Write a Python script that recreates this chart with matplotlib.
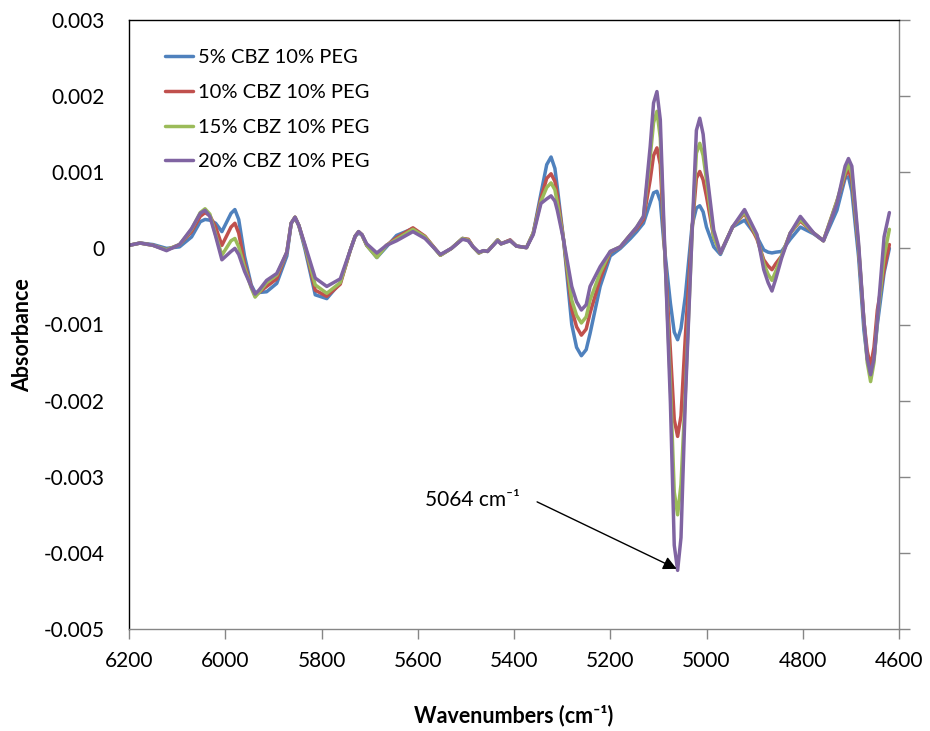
import matplotlib
matplotlib.use('Agg')
import matplotlib.pyplot as plt
from matplotlib.ticker import FixedLocator, FixedFormatter

plt.rcParams['font.family'] = ['Lato', 'DejaVu Sans']

# wavenumbers (cm-1), shared by all four spectra
wn = [6200, 6177, 6150, 6122, 6095, 6070, 6052, 6042, 6032, 6020,
      6007, 5988, 5980, 5972, 5960, 5946, 5938, 5930, 5914, 5893,
      5872, 5863, 5855, 5847, 5834, 5813, 5789, 5761, 5740, 5730,
      5723, 5716, 5706, 5685, 5665, 5644, 5610, 5585, 5553, 5530,
      5507, 5495, 5485, 5473, 5463, 5455, 5434, 5427, 5408, 5395,
      5374, 5360, 5344, 5332, 5323, 5315, 5310, 5297, 5280, 5270,
      5260, 5250, 5242, 5221, 5200, 5179, 5158, 5145, 5131, 5117,
      5110, 5103, 5096, 5089, 5075, 5067, 5060, 5053, 5044, 5030,
      5021, 5014, 5007, 5000, 4985, 4971, 4946, 4921, 4895, 4881,
      4872, 4864, 4856, 4844, 4826, 4805, 4777, 4757, 4729, 4712,
      4705, 4698, 4684, 4673, 4666, 4659, 4652, 4645, 4631, 4620]

cbz5 = [0.4e-4, 0.7e-4, 0.5e-4, 0.0e-4, 0.2e-4, 1.5e-4, 3.5e-4, 3.8e-4, 3.7e-4, 3.3e-4,
        2.2e-4, 4.6e-4, 5.1e-4, 3.8e-4, -1.0e-4, -4.8e-4, -5.8e-4, -5.8e-4, -5.7e-4, -4.6e-4,
        -1.0e-4, 3.3e-4, 4.0e-4, 3.0e-4, -0.2e-4, -6.1e-4, -6.6e-4, -4.5e-4, -0.2e-4, 1.6e-4,
        2.0e-4, 1.8e-4, 0.4e-4, -1.2e-4, 0.2e-4, 1.7e-4, 2.6e-4, 1.5e-4, -0.9e-4, 0.0e-4,
        1.3e-4, 1.1e-4, 0.2e-4, -0.6e-4, -0.3e-4, -0.4e-4, 1.1e-4, 0.6e-4, 1.1e-4, 0.3e-4,
        0.1e-4, 2.0e-4, 7.2e-4, 11.0e-4, 12.0e-4, 10.5e-4, 8.0e-4, 1.1e-4, -10.0e-4, -13.0e-4,
        -14.1e-4, -13.3e-4, -11.2e-4, -5.0e-4, -1.0e-4, 0.0e-4, 1.3e-4, 2.2e-4, 3.3e-4, 6.0e-4,
        7.3e-4, 7.5e-4, 6.2e-4, 1.0e-4, -7.2e-4, -11.0e-4, -12.0e-4, -10.5e-4, -6.3e-4, 3.0e-4,
        5.3e-4, 5.6e-4, 4.8e-4, 2.8e-4, 0.2e-4, -0.8e-4, 2.8e-4, 3.7e-4, 1.5e-4, -0.2e-4,
        -0.5e-4, -0.6e-4, -0.5e-4, -0.4e-4, 1.2e-4, 2.8e-4, 1.9e-4, 1.0e-4, 5.0e-4, 9.2e-4,
        9.4e-4, 7.5e-4, -1.1e-4, -10.7e-4, -14.5e-4, -16.0e-4, -14.5e-4, -10.0e-4, -3.2e-4, 0.0e-4]

cbz10 = [0.4e-4, 0.7e-4, 0.4e-4, -0.2e-4, 0.5e-4, 2.2e-4, 4.2e-4, 4.7e-4, 4.3e-4, 2.8e-4,
         0.4e-4, 2.8e-4, 3.3e-4, 2.0e-4, -2.0e-4, -5.0e-4, -6.2e-4, -5.8e-4, -5.0e-4, -4.0e-4,
         -0.5e-4, 3.3e-4, 4.1e-4, 3.0e-4, 0.2e-4, -5.5e-4, -6.3e-4, -4.7e-4, -0.2e-4, 1.6e-4,
         2.2e-4, 1.8e-4, 0.4e-4, -1.0e-4, 0.4e-4, 1.4e-4, 2.7e-4, 1.6e-4, -0.9e-4, 0.0e-4,
         1.3e-4, 1.2e-4, 0.2e-4, -0.6e-4, -0.3e-4, -0.4e-4, 1.1e-4, 0.6e-4, 1.1e-4, 0.3e-4,
         0.1e-4, 2.0e-4, 6.6e-4, 9.2e-4, 9.8e-4, 8.8e-4, 7.0e-4, 1.1e-4, -8.0e-4, -10.3e-4,
         -11.4e-4, -10.6e-4, -8.5e-4, -4.0e-4, -0.5e-4, 0.2e-4, 1.8e-4, 2.6e-4, 3.8e-4, 9.0e-4,
         12.2e-4, 13.2e-4, 11.0e-4, 2.0e-4, -13.5e-4, -22.5e-4, -24.7e-4, -22.0e-4, -11.6e-4, 2.5e-4,
         9.2e-4, 10.1e-4, 9.0e-4, 6.8e-4, 1.5e-4, -0.6e-4, 2.8e-4, 4.6e-4, 1.2e-4, -1.5e-4,
         -2.3e-4, -2.8e-4, -2.0e-4, -1.0e-4, 2.0e-4, 3.6e-4, 2.0e-4, 1.0e-4, 6.2e-4, 9.5e-4,
         10.3e-4, 9.0e-4, 0.0e-4, -9.5e-4, -13.5e-4, -15.5e-4, -13.0e-4, -8.1e-4, -2.8e-4, 0.5e-4]

cbz15 = [0.4e-4, 0.7e-4, 0.4e-4, -0.2e-4, 0.5e-4, 2.5e-4, 4.7e-4, 5.2e-4, 4.5e-4, 1.8e-4,
         -0.9e-4, 1.0e-4, 1.3e-4, 0.2e-4, -2.5e-4, -5.2e-4, -6.4e-4, -5.8e-4, -4.5e-4, -3.5e-4,
         -0.5e-4, 3.3e-4, 4.1e-4, 3.0e-4, 0.2e-4, -4.8e-4, -5.9e-4, -4.5e-4, -0.2e-4, 1.6e-4,
         2.2e-4, 1.8e-4, 0.4e-4, -1.2e-4, 0.4e-4, 1.2e-4, 2.5e-4, 1.5e-4, -0.9e-4, 0.0e-4,
         1.3e-4, 1.1e-4, 0.2e-4, -0.6e-4, -0.3e-4, -0.4e-4, 1.1e-4, 0.6e-4, 1.0e-4, 0.3e-4,
         0.1e-4, 2.0e-4, 6.2e-4, 8.0e-4, 8.6e-4, 7.7e-4, 6.0e-4, 1.1e-4, -6.8e-4, -8.8e-4,
         -9.8e-4, -9.0e-4, -6.8e-4, -3.2e-4, -0.4e-4, 0.2e-4, 1.8e-4, 2.8e-4, 4.2e-4, 12.0e-4,
         16.5e-4, 18.0e-4, 14.5e-4, 3.0e-4, -18.0e-4, -32.0e-4, -35.0e-4, -31.0e-4, -19.0e-4, 2.0e-4,
         12.5e-4, 13.8e-4, 12.2e-4, 9.0e-4, 1.5e-4, -0.6e-4, 2.8e-4, 4.8e-4, 1.5e-4, -2.0e-4,
         -3.4e-4, -4.2e-4, -3.0e-4, -1.0e-4, 2.0e-4, 3.8e-4, 2.0e-4, 1.0e-4, 6.2e-4, 10.0e-4,
         11.0e-4, 9.8e-4, 0.3e-4, -9.5e-4, -15.0e-4, -17.5e-4, -15.0e-4, -9.4e-4, -1.1e-4, 2.5e-4]

cbz20 = [0.4e-4, 0.7e-4, 0.4e-4, -0.3e-4, 0.5e-4, 2.6e-4, 4.6e-4, 5.0e-4, 4.2e-4, 1.6e-4,
         -1.5e-4, -0.4e-4, 0.0e-4, -0.8e-4, -3.0e-4, -5.0e-4, -6.0e-4, -5.5e-4, -4.2e-4, -3.3e-4,
         -0.5e-4, 3.3e-4, 4.1e-4, 3.0e-4, 0.4e-4, -3.9e-4, -5.0e-4, -4.0e-4, -0.2e-4, 1.6e-4,
         2.2e-4, 1.8e-4, 0.6e-4, -0.6e-4, 0.4e-4, 1.0e-4, 2.2e-4, 1.3e-4, -0.8e-4, 0.0e-4,
         1.2e-4, 1.0e-4, 0.2e-4, -0.5e-4, -0.3e-4, -0.4e-4, 1.0e-4, 0.6e-4, 1.0e-4, 0.3e-4,
         0.1e-4, 1.8e-4, 5.9e-4, 6.5e-4, 6.9e-4, 6.2e-4, 5.0e-4, 1.1e-4, -5.0e-4, -7.0e-4,
         -8.1e-4, -7.4e-4, -5.0e-4, -2.4e-4, -0.4e-4, 0.2e-4, 1.8e-4, 2.8e-4, 4.2e-4, 13.4e-4,
         19.1e-4, 20.6e-4, 16.9e-4, 4.0e-4, -20.3e-4, -39.0e-4, -42.3e-4, -38.0e-4, -20.0e-4, 2.0e-4,
         15.5e-4, 17.1e-4, 15.0e-4, 10.3e-4, 2.4e-4, -0.6e-4, 2.8e-4, 5.1e-4, 1.8e-4, -2.8e-4,
         -4.5e-4, -5.6e-4, -4.0e-4, -1.3e-4, 2.0e-4, 4.2e-4, 2.0e-4, 1.0e-4, 5.9e-4, 10.8e-4,
         11.8e-4, 10.8e-4, 0.7e-4, -9.4e-4, -14.5e-4, -16.6e-4, -14.5e-4, -9.4e-4, 1.5e-4, 4.7e-4]

labels = ['5% CBZ 10% PEG', '10% CBZ 10% PEG', '15% CBZ 10% PEG', '20% CBZ 10% PEG']
colors = ['#4F81BD', '#C0504D', '#9BBB59', '#8064A2']

yticks = [0.003, 0.002, 0.001, 0, -0.001, -0.002, -0.003, -0.004, -0.005]
ytick_labels = ['0.003', '0.002', '0.001', '0', '-0.001', '-0.002', '-0.003', '-0.004', '-0.005']
xticks = [6200, 6000, 5800, 5600, 5400, 5200, 5000, 4800, 4600]

fig = plt.figure(figsize=(9.3, 7.31), dpi=100)
ax = fig.add_axes([129/930, 1 - 629/731, 770/930, 609/731])

for ys, lab, c in zip([cbz5, cbz10, cbz15, cbz20], labels, colors):
    ax.plot(wn, ys, color=c, lw=2.5, label=lab, solid_joinstyle='round', solid_capstyle='round')

ax.set_xlim(6200, 4600)
ax.set_ylim(-0.005, 0.003)

ax.xaxis.set_major_locator(FixedLocator(xticks))
ax.yaxis.set_major_locator(FixedLocator(yticks))
ax.yaxis.set_major_formatter(FixedFormatter(ytick_labels))

# excel style: black frame top/left, grey axes right/bottom
ax.spines['top'].set_color('black')
ax.spines['left'].set_color('black')
ax.spines['right'].set_color('#868686')
ax.spines['bottom'].set_color('#868686')
for s in ax.spines.values():
    s.set_linewidth(1.0)

ax.tick_params(axis='y', left=False, right=True, labelleft=True, labelright=False,
               direction='out', length=8, width=1, color='#868686', labelsize=15, pad=9.5)
ax.tick_params(axis='x', direction='out', length=7, width=1, color='#868686',
               labelsize=15, pad=9)

ax.set_xlabel('Wavenumbers (cm⁻¹)', fontsize=15.5, fontweight='bold', labelpad=24)
ax.set_ylabel('Absorbance', fontsize=15.5, fontweight='bold')
ax.yaxis.set_label_coords(-0.125, 0.483)

ax.legend(loc='upper left', bbox_to_anchor=(0.0364, 0.965), frameon=False, fontsize=14.5,
          handlelength=1.4, handletextpad=0.25, labelspacing=0.87, borderaxespad=0)

ax.text(5387, -0.0033, '5064 cm⁻¹', fontsize=15, ha='right', va='center')
ax.annotate('', xy=(5062, -0.00421), xytext=(5352, -0.00333),
            arrowprops=dict(arrowstyle='-|>', color='black', lw=1, mutation_scale=20,
                            shrinkA=0, shrinkB=0))

fig.savefig('out.png', dpi=100)
